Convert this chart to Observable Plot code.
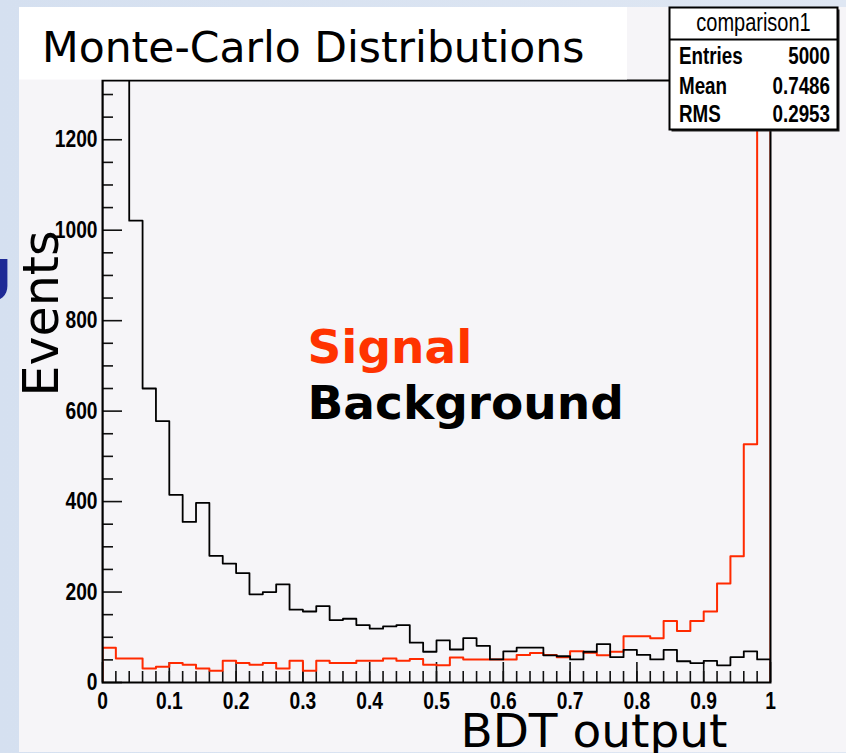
<!DOCTYPE html>
<html><head><meta charset="utf-8">
<script src="https://cdn.jsdelivr.net/npm/d3@7"></script>
<script src="https://cdn.jsdelivr.net/npm/@observablehq/plot@0.6"></script>
<style>
html,body{margin:0;padding:0;}
body{width:846px;height:753px;position:relative;overflow:hidden;background:linear-gradient(90deg,#d5e0f0 0%,#dfe7f3 100%);}
#pad{position:absolute;left:19px;top:7px;width:827px;height:745px;background:#f6f5f8;}
#chart{position:absolute;left:0;top:0;}
</style></head><body>
<div id="pad"></div>
<div id="chart"></div>
<script>
// ---- data ----
const nBins = 50;
const binWidth = 0.02;
const signal = [77,53,53,31,35,43,39,31,26,48,43,39,43,31,48,26,48,43,43,48,48,53,48,52,39,38,55,51,51,51,51,61,65,61,56,69,66,60,68,102,102,98,136,114,136,157,219,279,527,1236];
const background = [2300,1500,1021,650,578,415,355,397,280,263,242,195,200,217,161,157,169,138,141,127,119,124,127,88,68,93,73,98,81,51,69,77,77,60,58,51,68,85,56,72,61,51,72,47,43,48,38,56,69,51];
const xMajor = [0,0.1,0.2,0.3,0.4,0.5,0.6,0.7,0.8,0.9,1];
const yMajor = [0,200,400,600,800,1000,1200];
const yMinor = [50,100,150,250,300,350,450,500,550,650,700,750,850,900,950,1050,1100,1150,1250,1300];
const yMax = 1331;
const titleText = "Monte-Carlo Distributions";
const xLabel = "BDT output";
const yLabel = "Events";
const legendLabels = ["Signal","Background"];
const statsTitle = "comparison1";
const statsNames = ["Entries","Mean","RMS"];
const statsValues = ["5000","0.7486","0.2953"];

// ---- build outline tables ----
const binLow = d3.range(nBins).map(i => +(i*binWidth).toFixed(2));
function outline(vals){
  const pts = [{x:0,y:0}];
  vals.forEach((v,i)=>pts.push({x:binLow[i],y:v}));
  pts.push({x:1,y:vals[vals.length-1]});
  pts.push({x:1,y:0});
  return pts;
}
const sigPts = outline(signal);
const bkgPts = outline(background);
const xMinor = binLow.slice(1);

const W=846,H=753,mL=102,mR=76,mT=80,mB=71;
const frameW=W-mL-mR, frameH=H-mT-mB;
const sans='"Liberation Sans",Arial,sans-serif';
const dejavu='"DejaVu Sans",sans-serif';
const squeeze = 0.8; // narrow Helvetica look

const plot = Plot.plot({
  width:W,height:H,marginLeft:mL,marginRight:mR,marginTop:mT,marginBottom:mB,
  style:{background:"transparent",fontFamily:sans,fontSize:"24px",fontWeight:"bold",color:"black"},
  x:{domain:[0,1]},
  y:{domain:[0,yMax]},
  marks:[
    Plot.ruleX(xMinor,{x:d=>d,insetTop:frameH-11,stroke:"#111",strokeWidth:1.6}),
    Plot.ruleX(xMajor,{x:d=>d,insetTop:frameH-20,stroke:"#111",strokeWidth:1.6}),
    Plot.ruleY(yMinor,{y:d=>d,insetRight:frameW-11,stroke:"#111",strokeWidth:1.6}),
    Plot.ruleY(yMajor,{y:d=>d,insetRight:frameW-20,stroke:"#111",strokeWidth:1.6}),
    Plot.line(sigPts,{x:"x",y:"y",curve:"step-after",stroke:"#ff2a00",strokeWidth:2,clip:true}),
    Plot.line(bkgPts,{x:"x",y:"y",curve:"step-after",stroke:"#000",strokeWidth:1.8,clip:true}),
    Plot.axisX({ticks:xMajor,tickSize:0,tickPadding:9,tickFormat:d=>String(d),label:null}),
    Plot.axisY({ticks:yMajor,tickSize:0,tickPadding:5,tickFormat:d=>String(d),label:null}),
    Plot.frame({stroke:"#000",strokeWidth:2}),
    Plot.text([legendLabels[0]],{text:d=>d,frameAnchor:"top-left",lineAnchor:"middle",dx:205,dy:267,textAnchor:"start",fill:"#ff3300",fontFamily:dejavu,fontWeight:"bold",fontSize:47}),
    Plot.text([legendLabels[1]],{text:d=>d,frameAnchor:"top-left",lineAnchor:"middle",dx:205,dy:323,textAnchor:"start",fill:"#000",fontFamily:dejavu,fontWeight:"bold",fontSize:47}),
    Plot.text([yLabel],{text:d=>d,frameAnchor:"top-left",lineAnchor:"middle",rotate:-90,dx:-60,dy:150,textAnchor:"end",fill:"#000",fontFamily:dejavu,fontWeight:"normal",fontSize:49}),
    Plot.text([xLabel],{text:d=>d,frameAnchor:"bottom-right",lineAnchor:"middle",dx:-43,dy:49,textAnchor:"end",fill:"#000",fontFamily:dejavu,fontWeight:"normal",fontSize:47})
  ]
});
document.getElementById("chart").appendChild(plot);

const svg = d3.select(plot);
// narrow the tick labels (ROOT's condensed bold Helvetica)
svg.selectAll('g[aria-label="x-axis tick label"] text, g[aria-label="y-axis tick label"] text').each(function(){
  const t = this.getAttribute("transform") || "";
  this.setAttribute("transform", t + ` scale(${squeeze},1)`);
});

// ---- decorations: title box, stats box, slide fragment ----
const deco = svg.append("g").attr("text-anchor","start");
deco.append("text").attr("x",-28).attr("y",289).attr("font-family",dejavu).attr("font-weight","bold")
  .attr("font-size",56).attr("fill","#1e2a96").attr("text-anchor","start").text("g");
deco.append("rect").attr("x",19).attr("y",7).attr("width",608).attr("height",72.5).attr("fill","#fff");
deco.append("text").attr("x",42).attr("y",62).attr("font-family",dejavu).attr("font-weight","normal")
  .attr("font-size",42.5).attr("fill","#000").attr("text-anchor","start").text(titleText);
deco.append("rect").attr("x",671.5).attr("y",9.5).attr("width",168).attr("height",122).attr("fill","#222");
deco.append("rect").attr("x",669.5).attr("y",7.5).attr("width",168).attr("height",122).attr("fill","#fff").attr("stroke","#000").attr("stroke-width",2);
deco.append("line").attr("x1",669.5).attr("x2",837.5).attr("y1",39.5).attr("y2",39.5).attr("stroke","#000").attr("stroke-width",2);
function narrowText(x,y,anchor,weight,size,str){
  deco.append("text").attr("transform",`translate(${x},${y}) scale(${squeeze},1)`)
    .attr("text-anchor",anchor).attr("font-family",sans).attr("font-weight",weight)
    .attr("font-size",size).attr("fill","#000").text(str);
}
narrowText(753.5,31,"middle","normal",25,statsTitle);
const rowY=[64,94,122];
statsNames.forEach((n,i)=>{
  narrowText(679,rowY[i],"start","bold",23.5,n);
  narrowText(830,rowY[i],"end","bold",23.5,statsValues[i]);
});
</script></body></html>
